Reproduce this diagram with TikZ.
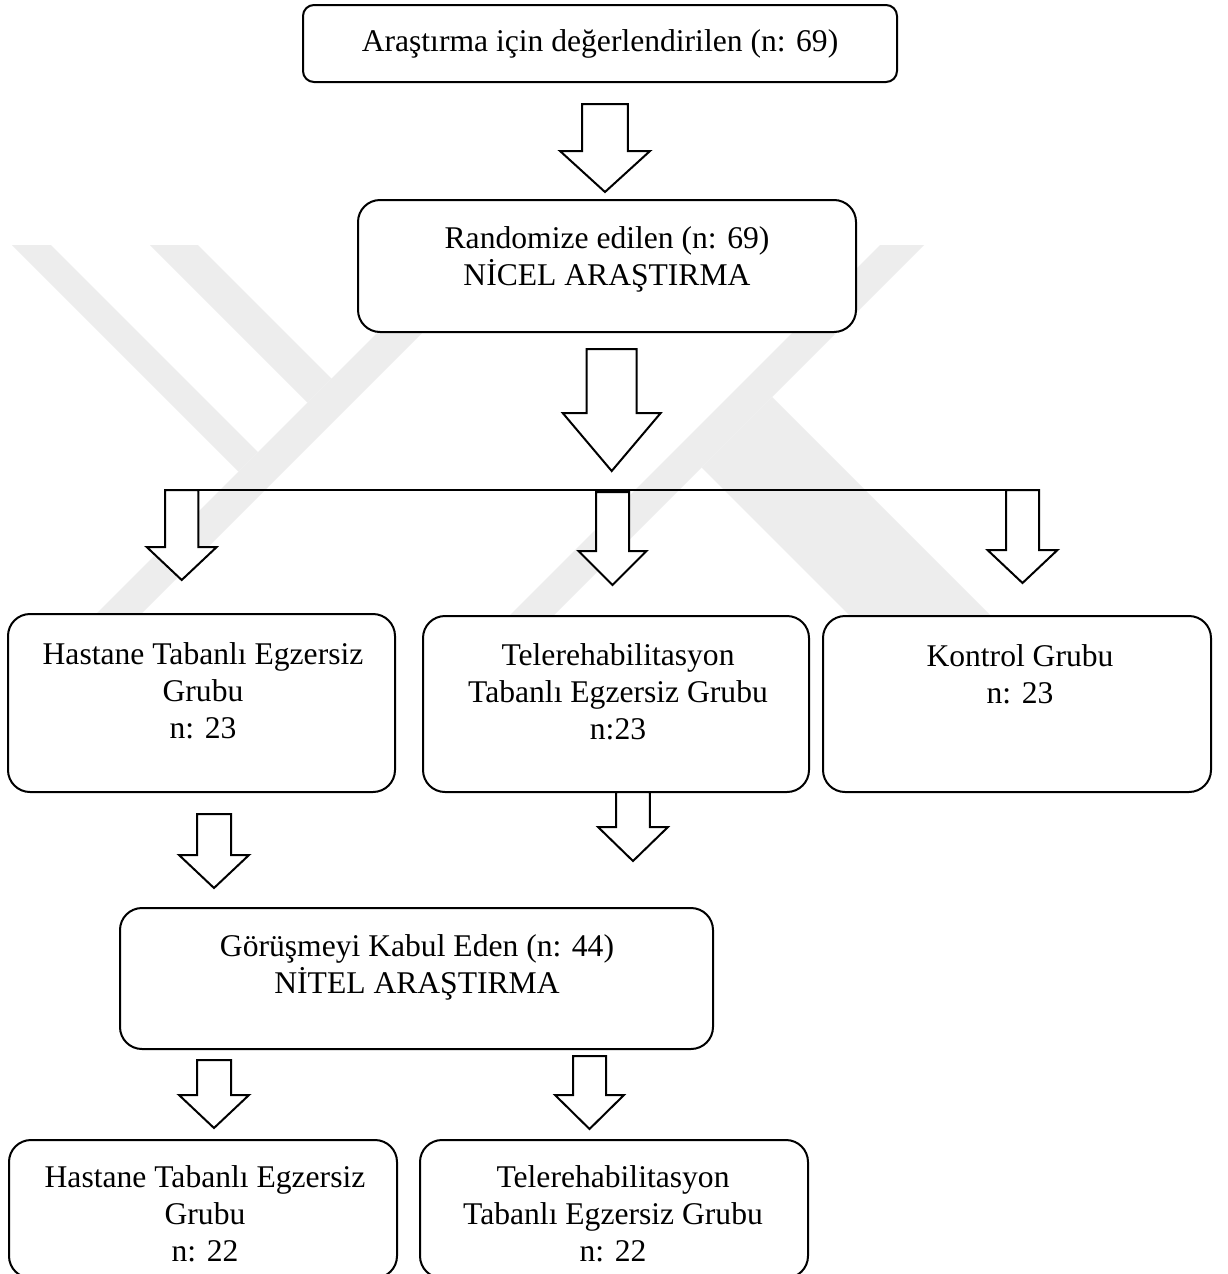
\documentclass[tikz,border=0pt]{standalone}
\usepackage{fontspec}
\setmainfont{Liberation Serif}
\usetikzlibrary{fit}
% hollow block arrow pointing down: centre x, top, head base, tip, shaft half width, head half width
\newcommand{\blockarrow}[7]{%
  \draw[blk] (#2-#6,#3) -- (#2+#6,#3) -- (#2+#6,#4) -- (#2+#7,#4) -- (#2,#5)
    coordinate (#1) -- (#2-#7,#4) -- (#2-#6,#4) -- cycle;}
\begin{document}
\begin{tikzpicture}[x=0.5pt,y=-0.5pt,
  box/.style={draw, line width=1pt, fill=white, inner sep=0pt, rounded corners=11pt},
  smallbox/.style={box, rounded corners=5.5pt},
  lbl/.style={align=center, inner sep=0pt, font=\fontsize{15.8}{18.4}\selectfont},
  blk/.style={draw, line width=1pt, fill=white, line join=miter},
  wm/.style={fill=black!7, draw=none},
  bar/.style={line width=0.8pt}]
\useasboundingbox (0,0) rectangle (1227,1274);
\fill[white] (0,0) rectangle (1227,1274);

% faint emblem in the background
\fill[wm] (12,245) -- (51,245) -- (258,452) -- (238.5,471.5) -- cycle;
\fill[wm] (150,245) -- (198,245) -- (331.5,378.5) -- (307.5,402.5) -- cycle;
\fill[wm] (465,245) -- (510,245) -- (55,700) -- (10,700) -- cycle;
\fill[wm] (880,245) -- (924,245) -- (469,700) -- (425,700) -- cycle;
\fill[wm] (701.5,467.5) -- (772,397) -- (1075,700) -- (934,700) -- cycle;

% boxes
\node[smallbox, fit={(303,5) (897,82)}] (top) {};
\node[box, fit={(358,200) (856,332)}] (rand) {};
\node[box, fit={(8,614) (395,792)}] (hosp) {};
\node[box, fit={(423,616) (809,792)}] (tele) {};
\node[box, fit={(823,616) (1211,792)}] (ctrl) {};
\node[box, fit={(120,908) (713,1049)}] (intv) {};
\node[box, fit={(9,1140) (397,1278)}] (hosp2) {};
\node[box, fit={(420,1140) (808,1278)}] (tele2) {};

% labels
\node[lbl] (top-t) at (600,44) {Araştırma için değerlendirilen (n: 69)};
\node[lbl] (rand-t) at (607,259) {Randomize edilen (n: 69)\\NİCEL ARAŞTIRMA};
\node[lbl] (hosp-t) at (203,691) {Hastane Tabanlı Egzersiz\\Grubu\\n: 23};
\node[lbl] (tele-t) at (618,692) {Telerehabilitasyon\\Tabanlı Egzersiz Grubu\\n:23};
\node[lbl] (ctrl-t) at (1020,674) {Kontrol Grubu\\n: 23};
\node[lbl] (intv-t) at (417,967) {Görüşmeyi Kabul Eden (n: 44)\\NİTEL ARAŞTIRMA};
\node[lbl] (hosp2-t) at (205,1214) {Hastane Tabanlı Egzersiz\\Grubu\\n: 22};
\node[lbl] (tele2-t) at (613,1214) {Telerehabilitasyon\\Tabanlı Egzersiz Grubu\\n: 22};

% splitting bar
\coordinate (barL) at (165,490);
\coordinate (barR) at (1039,490);
\draw[bar] (barL) -- (barR);

% block arrows
\blockarrow{a1}{605}{104}{151}{192}{22.8}{45}
\blockarrow{a2}{611.7}{349}{413}{471}{25}{49}
\blockarrow{a3}{181.7}{490}{547}{580}{16.7}{35}
\blockarrow{a4}{612.5}{492}{551}{585}{16.5}{34}
\blockarrow{a5}{1022.5}{490}{550}{583}{16.5}{35}
\blockarrow{a6}{633}{792}{827}{861}{16.8}{35}
\blockarrow{a7}{214}{814}{855}{888}{17}{35}
\blockarrow{a8}{214}{1060}{1095}{1128}{17}{35}
\blockarrow{a9}{589.5}{1056}{1095}{1129}{16.5}{34.5}
\end{tikzpicture}
\end{document}
